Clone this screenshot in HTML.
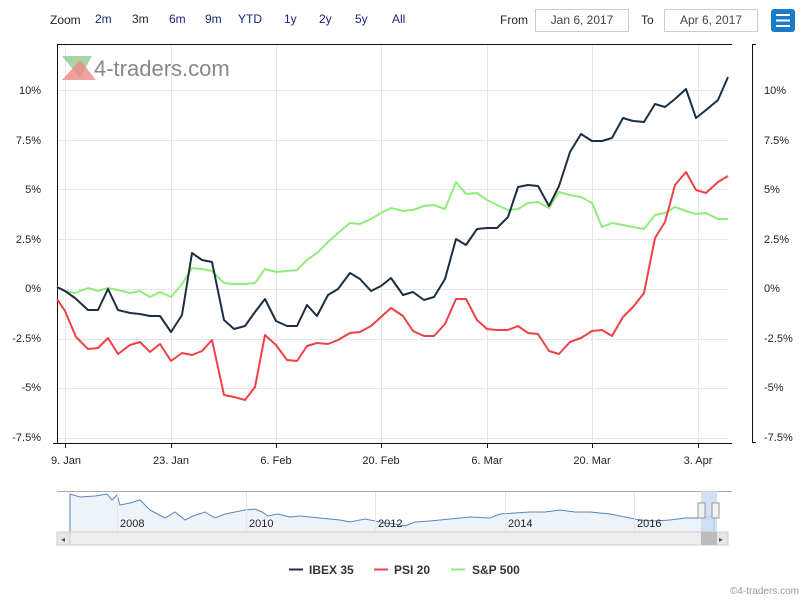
<!DOCTYPE html>
<html><head><meta charset="utf-8"><style>
body{margin:0;background:#fff;}
svg{display:block;font-family:"Liberation Sans",Arial,sans-serif;}
</style></head><body>
<svg width="805" height="600" viewBox="0 0 805 600">
<rect width="805" height="600" fill="#fff"/>
<!-- top bar -->
<g font-size="12" fill="#1a237e">
<text x="50" y="24" fill="#222">Zoom</text>
<text x="95" y="23">2m</text><text x="132" y="23" fill="#222">3m</text><text x="169" y="23">6m</text>
<text x="205" y="23">9m</text><text x="238" y="23">YTD</text><text x="284" y="23">1y</text>
<text x="319" y="23">2y</text><text x="355" y="23">5y</text><text x="392" y="23">All</text>
</g>
<text x="500" y="24" font-size="12" fill="#222">From</text>
<rect x="535.5" y="9.5" width="93" height="22" fill="#fff" stroke="#ccc"/>
<text x="582" y="24" font-size="12" fill="#444" text-anchor="middle">Jan 6, 2017</text>
<text x="641" y="24" font-size="12" fill="#222">To</text>
<rect x="664.5" y="9.5" width="93" height="22" fill="#fff" stroke="#ccc"/>
<text x="711" y="24" font-size="12" fill="#444" text-anchor="middle">Apr 6, 2017</text>
<rect x="771" y="9" width="24" height="23" rx="3" fill="#1a7bc9"/>
<g stroke="#fff" stroke-width="2"><line x1="776" y1="15" x2="790" y2="15"/><line x1="776" y1="20.5" x2="790" y2="20.5"/><line x1="776" y1="26" x2="790" y2="26"/></g>
<!-- grid -->
<g stroke="#e6e6e6" stroke-width="1">
<line x1="57" y1="90.5" x2="728" y2="90.5"/><line x1="57" y1="140.5" x2="728" y2="140.5"/>
<line x1="57" y1="189.5" x2="728" y2="189.5"/><line x1="57" y1="239.5" x2="728" y2="239.5"/>
<line x1="57" y1="289.5" x2="728" y2="289.5"/><line x1="57" y1="339.5" x2="728" y2="339.5"/>
<line x1="57" y1="388.5" x2="728" y2="388.5"/><line x1="57" y1="438.5" x2="728" y2="438.5"/>
<line x1="65.5" y1="44" x2="65.5" y2="443"/><line x1="171.5" y1="44" x2="171.5" y2="443"/>
<line x1="276.5" y1="44" x2="276.5" y2="443"/><line x1="381.5" y1="44" x2="381.5" y2="443"/>
<line x1="487.5" y1="44" x2="487.5" y2="443"/><line x1="592.5" y1="44" x2="592.5" y2="443"/>
<line x1="698.5" y1="44" x2="698.5" y2="443"/>
</g>
<line x1="57" y1="44.5" x2="732" y2="44.5" stroke="#111"/>
<line x1="53" y1="443.5" x2="732" y2="443.5" stroke="#111"/>
<line x1="57.5" y1="44" x2="57.5" y2="443" stroke="#111"/>
<g stroke="#111"><line x1="752.5" y1="44" x2="752.5" y2="443"/><line x1="752" y1="44.5" x2="756" y2="44.5"/><line x1="752" y1="442.5" x2="756" y2="442.5"/></g>
<g stroke="#111"><line x1="65.5" y1="443" x2="65.5" y2="448"/><line x1="171.5" y1="443" x2="171.5" y2="448"/><line x1="276.5" y1="443" x2="276.5" y2="448"/><line x1="381.5" y1="443" x2="381.5" y2="448"/><line x1="487.5" y1="443" x2="487.5" y2="448"/><line x1="592.5" y1="443" x2="592.5" y2="448"/><line x1="698.5" y1="443" x2="698.5" y2="448"/></g>
<!-- watermark -->
<polygon points="62,56 92,56 80,78" fill="#8fc98f" opacity="0.8"/>
<polygon points="62,80 80,60 96,80" fill="#e88" opacity="0.8"/>
<text x="94" y="76" font-size="22" fill="#888">4-traders.com</text>
<!-- y labels -->
<g font-size="11" fill="#222" text-anchor="end">
<text x="41" y="94">10%</text><text x="41" y="144">7.5%</text><text x="41" y="193">5%</text><text x="41" y="243">2.5%</text><text x="41" y="292">0%</text><text x="41" y="342">-2.5%</text><text x="41" y="391">-5%</text><text x="41" y="441">-7.5%</text>
</g>
<g font-size="11" fill="#222">
<text x="764" y="94">10%</text><text x="764" y="144">7.5%</text><text x="764" y="193">5%</text><text x="764" y="243">2.5%</text><text x="764" y="292">0%</text><text x="764" y="342">-2.5%</text><text x="764" y="391">-5%</text><text x="764" y="441">-7.5%</text>
</g>
<g font-size="11" fill="#222" text-anchor="middle">
<text x="66" y="464">9. Jan</text><text x="171" y="464">23. Jan</text><text x="276" y="464">6. Feb</text><text x="381" y="464">20. Feb</text><text x="487" y="464">6. Mar</text><text x="592" y="464">20. Mar</text><text x="698" y="464">3. Apr</text>
</g>
<!-- series -->
<g fill="none" stroke-width="2" stroke-linejoin="round">
<polyline stroke="#90ed7d" points="57,287 65,291 75,293 88,288 98,291 108,288 118,290 130,293 140,291 150,297 160,292 171,297 182,284 192,268 202,269 212,271 224,283 234,284 245,284 255,283 265,269 276,272 287,271 297,270 307,260 317,253 328,242 338,233 350,223 360,224 371,219 381,213 391,208 403,211 413,210 424,206 434,205 445,209 456,182 466,194 477,193 487,200 497,205 508,210 518,209 528,203 538,202 549,208 559,192 570,195 581,197 592,203 602,227 612,223 623,225 633,227 644,229 655,215 665,213 675,207 686,211 696,214 706,213 718,219 728,219"/>
<polyline stroke="#f04048" points="57,299 65,311 76,337 88,349 98,348 108,338 118,354 130,345 140,342 150,352 160,344 171,361 182,353 192,355 202,351 212,340 224,395 234,397 245,400 255,387 265,335 276,345 287,360 297,361 307,346 317,343 328,344 338,340 350,333 360,332 371,326 381,317 391,308 403,316 413,331 424,336 434,336 445,324 456,299 466,299 477,320 487,329 497,330 508,330 518,326 528,333 538,334 549,351 559,354 570,342 581,338 592,331 602,330 612,336 623,317 633,307 644,293 655,238 665,222 675,185 686,172 696,190 706,193 718,182 728,176"/>
<polyline stroke="#1c2e45" points="57,287 65,291 75,298 88,310 98,310 108,289 118,310 130,313 140,314 150,316 160,316 171,332 182,315 192,253 202,260 212,262 224,320 234,329 245,326 255,312 265,299 276,321 287,326 297,326 307,305 317,316 328,295 338,289 350,273 360,279 371,291 381,286 391,278 403,295 413,292 424,300 434,297 445,279 456,239 466,245 477,229 487,228 497,228 508,217 518,187 528,185 538,186 549,206 559,186 570,152 581,134 592,141 602,141 612,138 623,118 633,121 644,122 655,104 665,107 675,99 686,89 696,118 706,110 718,100 728,77"/>
</g>
<!-- navigator -->
<rect x="57" y="491" width="671" height="41" fill="#fff"/>
<path d="M70,532 L70,494 L80,497 L95,496 L107,494 L112,500 L117,495 L120,505 L130,503 L140,500 L150,510 L165,518 L175,512 L185,520 L193,516 L205,512 L215,518 L225,514 L235,512 L245,510 L255,509 L262,512 L268,516 L278,514 L290,517 L300,516 L320,518 L340,520 L350,522 L365,519 L375,521 L385,523 L395,524 L405,526 L415,522 L430,521 L450,519 L470,517 L490,518 L500,514 L515,513 L530,512 L545,512 L560,510 L575,512 L590,512 L610,514 L625,517 L640,520 L655,521 L670,520 L685,518 L700,518 L714,516 L714,532 Z" fill="#eef3f9" stroke="#5b84c0" stroke-width="1"/>
<g stroke="#e6e6e6"><line x1="117.5" y1="491" x2="117.5" y2="532"/><line x1="246.5" y1="491" x2="246.5" y2="532"/><line x1="375.5" y1="491" x2="375.5" y2="532"/><line x1="505.5" y1="491" x2="505.5" y2="532"/><line x1="634.5" y1="491" x2="634.5" y2="532"/></g>
<line x1="57" y1="491.5" x2="732" y2="491.5" stroke="#aaa"/>
<g font-size="11" fill="#222"><text x="120" y="527">2008</text><text x="249" y="527">2010</text><text x="378" y="527">2012</text><text x="508" y="527">2014</text><text x="637" y="527">2016</text></g>
<rect x="701" y="491" width="16" height="41" fill="#c4d9f2" opacity="0.8"/>
<rect x="698" y="503" width="7" height="15" fill="#f2f2f2" stroke="#999"/>
<rect x="712" y="503" width="7" height="15" fill="#f2f2f2" stroke="#999"/>
<rect x="57" y="532" width="671" height="13" fill="#eee" stroke="#ccc"/>
<rect x="57" y="532" width="13" height="13" fill="#e6e6e6" stroke="#ccc"/>
<rect x="715" y="532" width="13" height="13" fill="#e6e6e6" stroke="#ccc"/>
<rect x="701" y="532" width="16" height="13" fill="#bbb"/>
<text x="61" y="542" font-size="8" fill="#555">◂</text><text x="719" y="542" font-size="8" fill="#555">▸</text>
<!-- legend -->
<g font-size="12" font-weight="bold" fill="#333">
<line x1="289" y1="569.5" x2="303" y2="569.5" stroke="#1c2e45" stroke-width="2"/><text x="309" y="574">IBEX 35</text>
<line x1="374" y1="569.5" x2="388" y2="569.5" stroke="#f04048" stroke-width="2"/><text x="394" y="574">PSI 20</text>
<line x1="451" y1="569.5" x2="465" y2="569.5" stroke="#90ed7d" stroke-width="2"/><text x="472" y="574">S&amp;P 500</text>
</g>
<text x="799" y="594" font-size="10" fill="#999" text-anchor="end">©4-traders.com</text>
</svg>
</body></html>
